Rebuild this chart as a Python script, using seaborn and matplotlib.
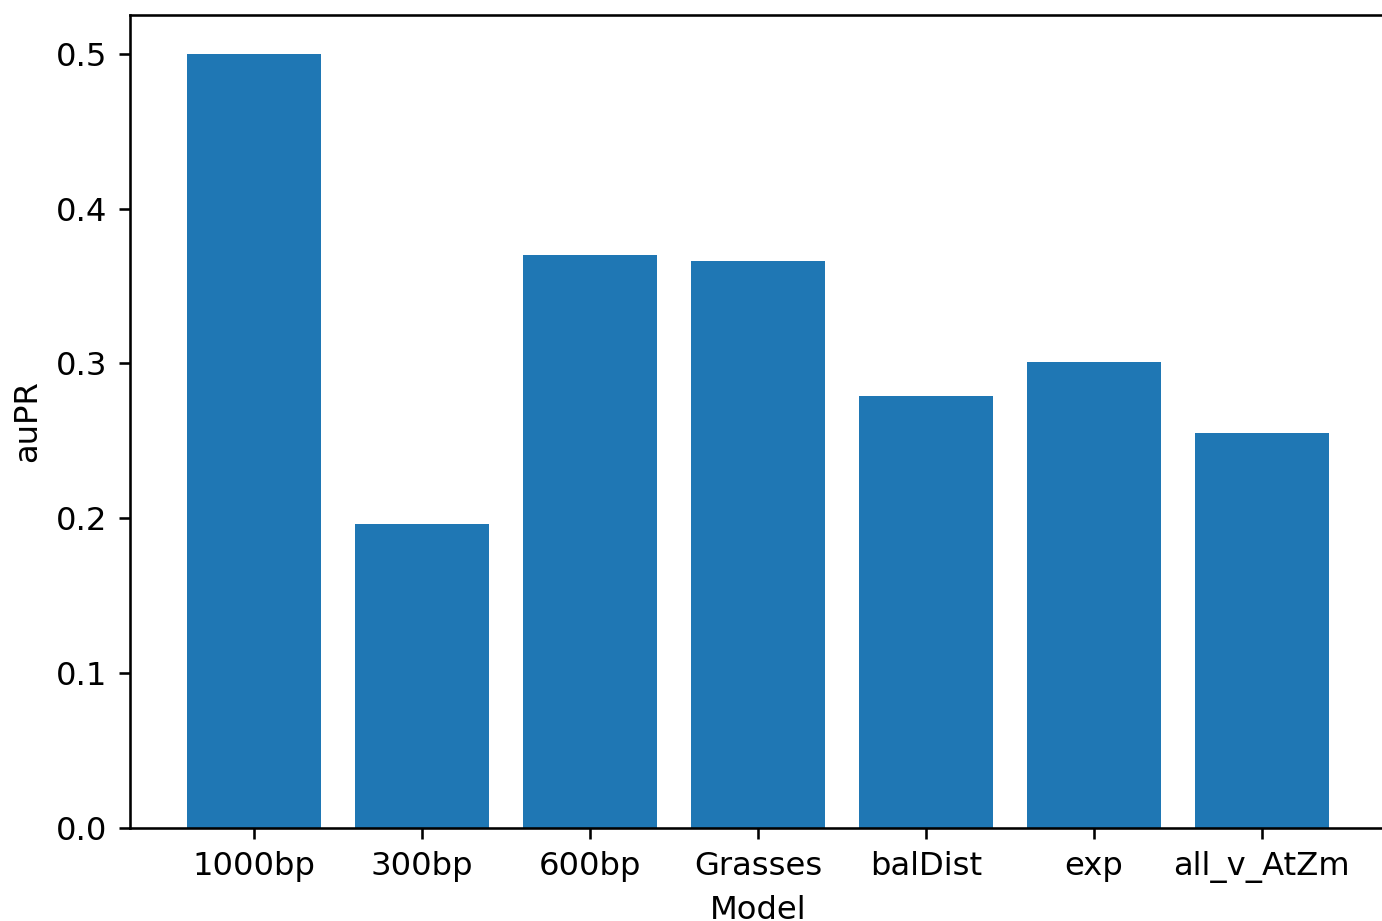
import matplotlib
matplotlib.use("Agg")
import matplotlib.pyplot as plt
import seaborn as sns
import pandas as pd

models = ["1000bp", "300bp", "600bp", "Grasses", "balDist", "exp", "all_v_AtZm"]
aupr = [0.500, 0.196, 0.370, 0.366, 0.279, 0.301, 0.255]

df = pd.DataFrame({"Model": models, "auPR": aupr})

# original was rendered at a slightly larger scale, so bump sizes ~16%
s = 1.16
plt.rcParams.update({
    "font.size": 10 * s,
    "axes.linewidth": 0.8 * s,
    "xtick.major.size": 3.5 * s,
    "ytick.major.size": 3.5 * s,
    "xtick.major.width": 0.8 * s,
    "ytick.major.width": 0.8 * s,
    "xtick.major.pad": 3.5 * s,
    "ytick.major.pad": 3.5 * s,
    "axes.labelpad": 4.0 * s,
})

fig = plt.figure(figsize=(6.91, 4.605), dpi=200)
ax = fig.add_axes([0.094, 0.101, 0.909, 0.8827])

sns.barplot(data=df, x="Model", y="auPR", color="#1f77b4",
            saturation=1, width=0.8, ax=ax)

ax.set_xlim(-0.74, 6.74)
ax.set_ylim(0, 0.525)
ax.set_xlabel("Model")
ax.set_ylabel("auPR")

fig.savefig("out.png", dpi=200)
